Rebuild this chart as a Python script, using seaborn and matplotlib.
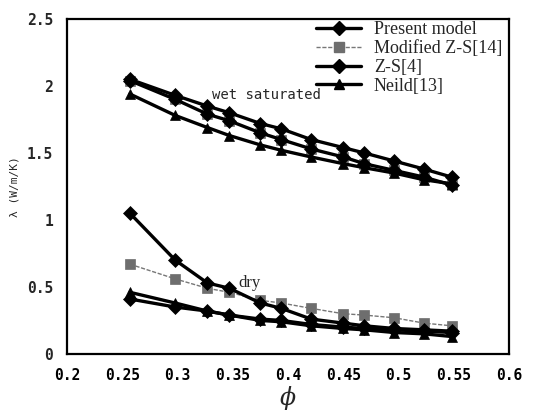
import numpy as np
import pandas as pd
import seaborn as sns
import matplotlib
matplotlib.use("Agg")
import matplotlib.pyplot as plt
from matplotlib.lines import Line2D

# ---- data ----
phi = [0.257, 0.298, 0.327, 0.347, 0.375, 0.394, 0.421, 0.450, 0.469, 0.496, 0.523, 0.548]

wet_present = [2.05, 1.93, 1.85, 1.80, 1.72, 1.68, 1.60, 1.54, 1.50, 1.44, 1.38, 1.32]
wet_modzs   = [2.04, 1.90, 1.79, 1.74, 1.65, 1.60, 1.53, 1.47, 1.42, 1.37, 1.32, 1.26]
wet_zs      = [2.04, 1.90, 1.79, 1.74, 1.65, 1.60, 1.53, 1.47, 1.42, 1.37, 1.32, 1.26]
wet_neild   = [1.94, 1.78, 1.69, 1.63, 1.56, 1.52, 1.47, 1.42, 1.39, 1.35, 1.30, 1.27]

dry_present = [1.05, 0.70, 0.53, 0.49, 0.38, 0.34, 0.26, 0.23, 0.21, 0.19, 0.18, 0.17]
dry_modzs   = [0.67, 0.56, 0.49, 0.46, 0.40, 0.38, 0.34, 0.30, 0.29, 0.27, 0.23, 0.21]
dry_zs      = [0.41, 0.35, 0.32, 0.29, 0.26, 0.25, 0.22, 0.20, 0.19, 0.18, 0.17, 0.16]
dry_neild   = [0.46, 0.38, 0.32, 0.29, 0.25, 0.24, 0.21, 0.19, 0.18, 0.16, 0.15, 0.13]

models = ["Present model", "Modified Z-S[14]", "Z-S[4]", "Neild[13]"]
x_ticks = [0.2, 0.25, 0.3, 0.35, 0.4, 0.45, 0.5, 0.55, 0.6]
x_tick_labels = ["0.2", "0.25", "0.3", "0.35", "0.4", "0.45", "0.5", "0.55", "0.6"]
y_ticks = [0, 0.5, 1, 1.5, 2, 2.5]
y_tick_labels = ["0", "0.5", "1", "1.5", "2", "2.5"]

# ---- styles ----
styles = {
    "Present model":    dict(color="black", marker="D", ms=7, lw=2.4, ls="-", mfc="black"),
    "Modified Z-S[14]": dict(color="#777777", marker="s", ms=7, lw=1.0, ls=(0, (3, 1.2)), mfc="#6e6e6e"),
    "Z-S[4]":           dict(color="black", marker="D", ms=7, lw=2.4, ls="-", mfc="black"),
    "Neild[13]":        dict(color="black", marker="^", ms=7.5, lw=2.4, ls="-", mfc="black"),
}

rows = []
for cond, series in [("wet", [wet_present, wet_modzs, wet_zs, wet_neild]),
                     ("dry", [dry_present, dry_modzs, dry_zs, dry_neild])]:
    for m, vals in zip(models, series):
        for xv, yv in zip(phi, vals):
            rows.append(dict(cond=cond, model=m, phi=xv, lam=yv))
df = pd.DataFrame(rows)

sns.set_style("white")
fig = plt.figure(figsize=(5.44, 4.13), dpi=100)
ax = fig.add_axes([0.123, 0.143, 0.813, 0.811])

draw_order = ["Modified Z-S[14]", "Neild[13]", "Z-S[4]", "Present model"]
for cond in ["wet", "dry"]:
    for m in draw_order:
        st = styles[m]
        sub = df[(df.cond == cond) & (df.model == m)]
        sns.lineplot(data=sub, x="phi", y="lam", ax=ax, color=st["color"],
                     marker=st["marker"], markersize=st["ms"], linewidth=st["lw"],
                     linestyle=st["ls"], markerfacecolor=st["mfc"],
                     markeredgecolor=st["mfc"], markeredgewidth=0.5,
                     legend=False, sort=False)

ax.set_xlim(0.2, 0.6)
ax.set_ylim(0, 2.5)
mono = "DejaVu Sans Mono"
ax.set_xticks(x_ticks)
ax.set_xticklabels(x_tick_labels, fontfamily=mono, fontsize=10.5, fontweight="bold")
ax.set_yticks(y_ticks)
ax.set_yticklabels(y_tick_labels, fontfamily=mono, fontsize=10.5, fontweight="bold")
ax.tick_params(axis="x", direction="in", length=3, width=1, pad=10, colors="black")
ax.tick_params(axis="y", length=0, pad=10)
for sp in ax.spines.values():
    sp.set_visible(True)
    sp.set_color("black")
    sp.set_linewidth(1.6)

ax.set_xlabel("ϕ", fontsize=17, fontstyle="italic", fontfamily="DejaVu Serif", labelpad=2)
ax.set_ylabel("λ (W/m/K)", fontsize=8, fontfamily=mono)
ax.yaxis.set_label_coords(-0.108, 0.5)

ax.text(0.331, 1.93, "wet saturated", fontfamily=mono, fontsize=10, va="center", ha="left")
ax.text(0.355, 0.53, "dry", fontfamily="Liberation Serif", fontsize=12, va="center", ha="left")

handles = []
for m in models:
    st = styles[m]
    handles.append(Line2D([], [], color=st["color"], marker=st["marker"], markersize=st["ms"],
                          linewidth=st["lw"], linestyle=st["ls"], markerfacecolor=st["mfc"],
                          markeredgecolor=st["mfc"]))
leg = ax.legend(handles, models, loc="upper right", frameon=False,
                prop={"family": "Liberation Serif", "size": 13},
                handlelength=2.5, labelspacing=0.1, borderaxespad=0.1,
                handletextpad=0.7, bbox_to_anchor=(1.005, 1.02))

fig.savefig("out.png", dpi=100, facecolor="white")
